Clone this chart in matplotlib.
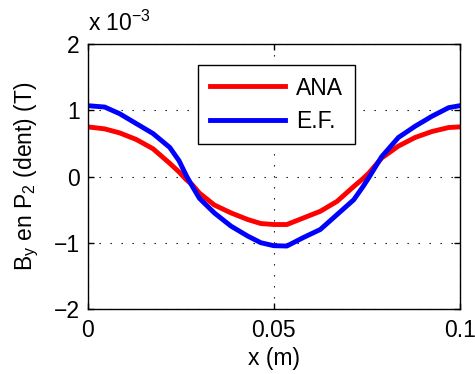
import matplotlib.pyplot as plt
import numpy as np

plt.rcParams['font.family'] = ['Liberation Sans', 'DejaVu Sans']
plt.rcParams['font.size'] = 16.5

x = [0, 0.0045, 0.0085, 0.013, 0.0175, 0.022, 0.0245, 0.0265, 0.028, 0.030,
     0.034, 0.0385, 0.043, 0.0465, 0.050, 0.0535, 0.058, 0.0625, 0.067,
     0.0715, 0.074, 0.0755, 0.079, 0.0835, 0.088, 0.0925, 0.097, 0.1]
ana = [0.75, 0.72, 0.66, 0.56, 0.42, 0.2, 0.07, -0.05, -0.12, -0.25,
       -0.43, -0.55, -0.65, -0.71, -0.725, -0.725, -0.625, -0.525, -0.375,
       -0.15, -0.03, 0.05, 0.28, 0.46, 0.59, 0.68, 0.74, 0.75]
ef = [1.07, 1.05, 0.95, 0.80, 0.65, 0.44, 0.24, 0.01, -0.14, -0.33,
      -0.55, -0.75, -0.9, -1.0, -1.045, -1.05, -0.92, -0.8, -0.575,
      -0.35, -0.15, -0.02, 0.30, 0.59, 0.76, 0.91, 1.04, 1.07]

fig = plt.figure(figsize=(4.75, 3.74), dpi=100)
ax = fig.add_axes([0.185, 0.174, 0.783, 0.708])

ax.plot(x, np.array(ana) * 1e-3, color='#ff0000', lw=3.5, label='ANA')
ax.plot(x, np.array(ef) * 1e-3, color='#0000ff', lw=3.5, label='E.F.')

ax.set_xlim(0, 0.1)
ax.set_ylim(-2e-3, 2e-3)
ax.set_xticks([0, 0.05, 0.1])
ax.set_xticklabels(['0', '0.05', '0.1'])
ax.set_yticks([-2e-3, -1e-3, 0, 1e-3, 2e-3])
ax.set_yticklabels(['\u22122', '\u22121', '0', '1', '2'])
ax.grid(True, color='black', linestyle=(0, (1.2, 8.7)), linewidth=0.8)
ax.tick_params(direction='in', top=True, right=True, length=4, width=1)
ax.tick_params(axis='x', pad=7)
ax.tick_params(axis='y', pad=6)
for s in ax.spines.values():
    s.set_linewidth(1.0)

ax.set_xlabel('x (m)', labelpad=4)
ax.set_ylabel(r'B$_\mathregular{y}$ en P$_\mathregular{2}$ (dent) (T)', fontsize=16.5)
ax.yaxis.set_label_coords(-0.125, 0.5)
ax.text(0.0, 1.03, r'x $\mathregular{10^{-3}}$', transform=ax.transAxes,
        ha='left', va='bottom')

ax.legend(loc='upper left', bbox_to_anchor=(0.297, 0.921), borderaxespad=0,
          handlelength=3.3, handletextpad=0.48, labelspacing=0.45,
          fancybox=False, edgecolor='black', framealpha=1, borderpad=0.5)

plt.savefig('out.png', dpi=100)
